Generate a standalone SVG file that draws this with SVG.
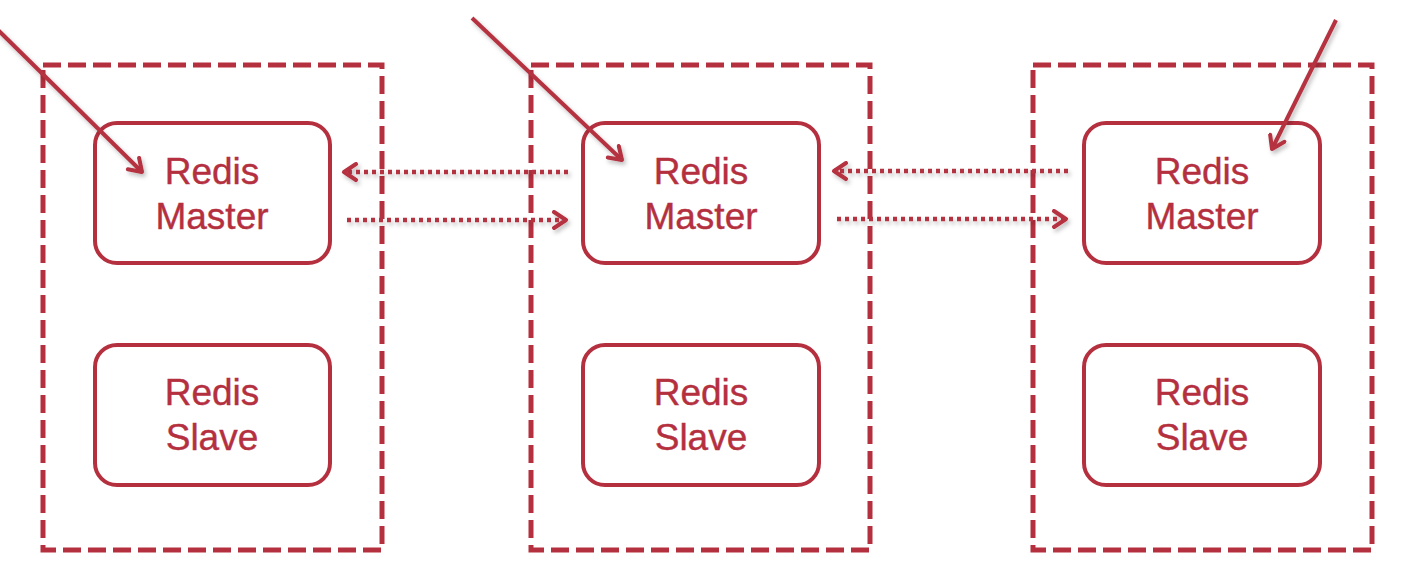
<svg xmlns="http://www.w3.org/2000/svg" width="1416" height="586" viewBox="0 0 1416 586">
<style>
.group{fill:none;stroke:#b5303f;stroke-width:5;stroke-dasharray:18 7}
.node{fill:#fff;stroke:#b5303f;stroke-width:4}
.lbl{fill:#b5303f;stroke:#b5303f;stroke-width:0.4;font-family:"Liberation Sans",Arial,sans-serif;font-size:37px;text-anchor:middle}
.dot{fill:none;stroke:#b5303f;stroke-width:4.5;stroke-dasharray:4 4;filter:url(#sh)}
.solid{fill:none;stroke:#b5303f;stroke-width:4;filter:url(#sh)}
</style>
<defs>
<filter id="sh" filterUnits="userSpaceOnUse" x="0" y="0" width="1416" height="586">
<feDropShadow dx="2" dy="3" stdDeviation="2" flood-color="#000" flood-opacity="0.25"/>
</filter>
<marker id="ah" viewBox="0 0 20 20" refX="17" refY="10" markerWidth="20" markerHeight="20" markerUnits="userSpaceOnUse" orient="auto">
<path d="M5,2 L17,10 L5,18" fill="none" stroke="#b5303f" stroke-width="4" stroke-linecap="round" stroke-linejoin="round"/>
</marker>
</defs>
<rect width="1416" height="586" fill="#fff"/>
<g id="cluster1">
<rect class="group" x="43" y="65" width="339" height="485"/>
</g>
<g id="cluster2">
<rect class="group" x="531" y="65" width="339" height="485"/>
</g>
<g id="cluster3">
<rect class="group" x="1033" y="65" width="339" height="485"/>
</g>
<g id="master1">
<rect class="node" x="95" y="123" width="235" height="140" rx="22"/>
<text class="lbl" x="212" y="184">Redis</text>
<text class="lbl" x="212" y="229">Master</text>
</g>
<g id="slave1">
<rect class="node" x="95" y="345" width="235" height="140" rx="22"/>
<text class="lbl" x="212" y="405">Redis</text>
<text class="lbl" x="212" y="450">Slave</text>
</g>
<g id="master2">
<rect class="node" x="583" y="123" width="236" height="140" rx="22"/>
<text class="lbl" x="701" y="184">Redis</text>
<text class="lbl" x="701" y="229">Master</text>
</g>
<g id="slave2">
<rect class="node" x="583" y="345" width="236" height="140" rx="22"/>
<text class="lbl" x="701" y="405">Redis</text>
<text class="lbl" x="701" y="450">Slave</text>
</g>
<g id="master3">
<rect class="node" x="1084" y="123" width="236" height="140" rx="22"/>
<text class="lbl" x="1202" y="184">Redis</text>
<text class="lbl" x="1202" y="229">Master</text>
</g>
<g id="slave3">
<rect class="node" x="1084" y="345" width="236" height="140" rx="22"/>
<text class="lbl" x="1202" y="405">Redis</text>
<text class="lbl" x="1202" y="450">Slave</text>
</g>
<g id="connectors">
<line class="dot" x1="568" y1="172" x2="344" y2="172" marker-end="url(#ah)"/>
<line class="dot" x1="347" y1="220" x2="566" y2="220" marker-end="url(#ah)"/>
<line class="dot" x1="1068" y1="171" x2="834" y2="171" marker-end="url(#ah)"/>
<line class="dot" x1="837" y1="219" x2="1066" y2="219" marker-end="url(#ah)"/>
<line class="solid" x1="-2" y1="30" x2="142" y2="172" marker-end="url(#ah)"/>
<line class="solid" x1="472" y1="18" x2="622" y2="160" marker-end="url(#ah)"/>
<line class="solid" x1="1336" y1="20" x2="1272" y2="149" marker-end="url(#ah)"/>
</g>
</svg>
